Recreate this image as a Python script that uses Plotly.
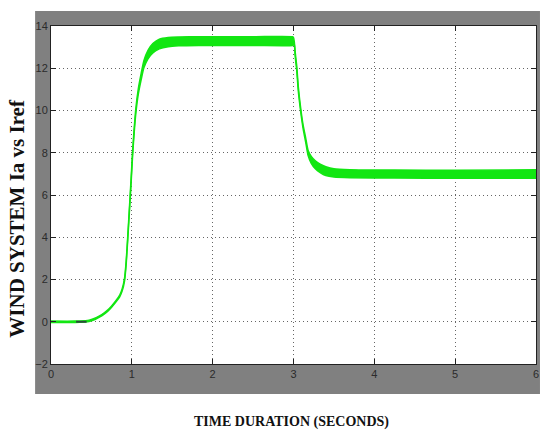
import plotly.graph_objects as go

# Time (s) and upper/lower envelope of the Ia ripple band
t = [0.0, 0.3, 0.45, 0.5, 0.55, 0.6, 0.65, 0.7, 0.75, 0.8, 0.85, 0.88, 0.91, 0.93,
     0.95, 0.97, 0.99, 1.01, 1.03, 1.05, 1.08, 1.115, 1.15, 1.2, 1.26, 1.34, 1.45,
     1.58, 1.83, 2.5, 2.99, 3.0, 3.01, 3.02, 3.04, 3.06, 3.09, 3.12, 3.15, 3.18,
     3.22, 3.27, 3.33, 3.4, 3.5, 3.7, 4.25, 5.0, 6.0]
ia_upper = [0.03, 0.03, 0.06, 0.11, 0.18, 0.28, 0.4, 0.55, 0.75, 0.98, 1.26, 1.55, 2.06,
            2.87, 4.08, 5.38, 6.7, 8.1, 9.2, 10.12, 11.03, 11.75, 12.37, 12.85, 13.17,
            13.38, 13.46, 13.48, 13.49, 13.49, 13.49, 13.45, 13.25, 12.8, 12.1, 11.1,
            10.08, 9.28, 8.72, 8.12, 7.82, 7.62, 7.46, 7.34, 7.24, 7.2, 7.18, 7.17, 7.19]
ia_lower = [-0.03, -0.03, 0.0, 0.05, 0.12, 0.22, 0.34, 0.49, 0.69, 0.92, 1.18, 1.45, 1.94,
            2.73, 3.92, 5.22, 6.5, 7.9, 9.0, 9.88, 10.77, 11.45, 12.03, 12.45, 12.73,
            12.92, 13.02, 13.06, 13.08, 13.08, 13.08, 13.1, 13.15, 12.6, 11.9, 10.9,
            9.92, 9.12, 8.52, 7.88, 7.5, 7.24, 7.06, 6.92, 6.85, 6.82, 6.8, 6.79, 6.79]

# short dark reference segment near the start
iref_t = [0.31, 0.44]
iref_v = [0.0, 0.0]

x_ticks = [0, 1, 2, 3, 4, 5, 6]
y_ticks = [-2, 0, 2, 4, 6, 8, 10, 12, 14]

green = "#12e612"

fig = go.Figure()
fig.add_trace(go.Scatter(x=t, y=ia_lower, mode="lines",
                         line=dict(color=green, width=1.5, shape="spline", smoothing=0.6),
                         showlegend=False, hoverinfo="skip"))
fig.add_trace(go.Scatter(x=t, y=ia_upper, mode="lines", fill="tonexty",
                         fillcolor=green,
                         line=dict(color=green, width=1.5, shape="spline", smoothing=0.6),
                         showlegend=False, name="Ia"))
fig.add_trace(go.Scatter(x=iref_t, y=iref_v, mode="lines",
                         line=dict(color="#2a4a3a", width=2), showlegend=False,
                         name="Iref"))

W, H = 546, 432
L, R, T, B = 51, 7, 26, 68
pw, ph = W - L - R, H - T - B

def px_to_paper_x(px):
    return (px - L) / pw

def px_to_paper_y(py):
    return (H - B - py) / ph

tick_font = dict(family="Liberation Sans Narrow, Arial Narrow, Liberation Sans, Arial",
                 size=11, color="#2b2b2b")

axis_common = dict(ticks="inside", ticklen=5, tickcolor="#222", showline=True,
                   linecolor="#222", linewidth=1, mirror="ticks", showgrid=True,
                   gridcolor="#666", griddash="1px,3px", gridwidth=1,
                   zeroline=False, tickfont=tick_font)

fig.update_layout(
    width=W, height=H,
    margin=dict(l=L, r=R, t=T, b=B, pad=0),
    paper_bgcolor="white",
    plot_bgcolor="white",
    shapes=[
        dict(type="rect", xref="paper", yref="paper", layer="below",
             x0=px_to_paper_x(35), x1=px_to_paper_x(543),
             y0=px_to_paper_y(394), y1=px_to_paper_y(11),
             fillcolor="#808080", line=dict(width=0)),
        dict(type="rect", xref="paper", yref="paper", layer="below",
             x0=0, x1=1, y0=0, y1=1,
             fillcolor="white", line=dict(width=0)),
    ],
    xaxis=dict(range=[0, 6], tickvals=x_ticks, **axis_common),
    yaxis=dict(range=[-2, 14], tickvals=y_ticks, **axis_common),
    annotations=[
        dict(text="<b>WIND SYSTEM Ia vs Iref</b>", xref="paper", yref="paper",
             x=px_to_paper_x(16.5), y=px_to_paper_y(218), textangle=-90,
             showarrow=False, xanchor="center", yanchor="middle",
             font=dict(family="Liberation Serif, Times New Roman, serif", size=21,
                       color="#111")),
        dict(text="<b>TIME DURATION (SECONDS)</b>", xref="paper", yref="paper",
             x=px_to_paper_x(293), y=px_to_paper_y(422),
             showarrow=False, xanchor="center", yanchor="middle",
             font=dict(family="Liberation Serif, Times New Roman, serif", size=14,
                       color="#111")),
    ],
)

fig.write_html("out.html")
